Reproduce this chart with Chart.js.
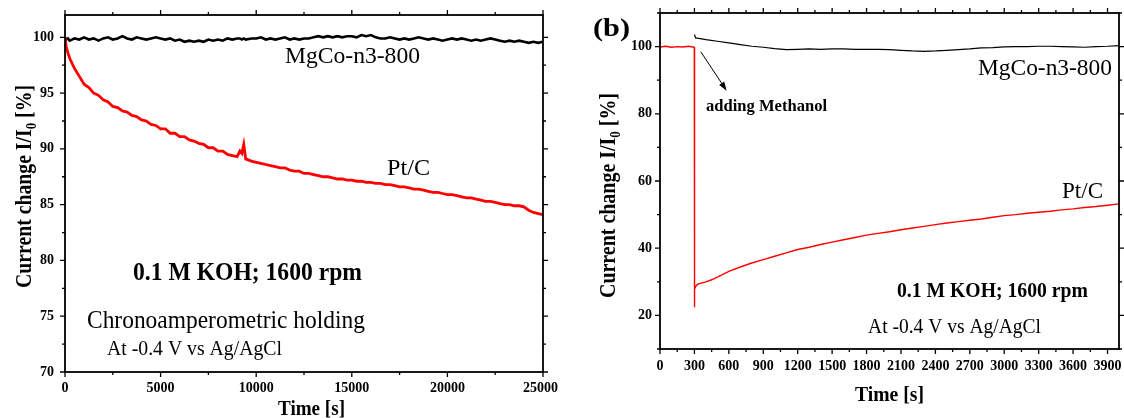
<!DOCTYPE html>
<html><head><meta charset="utf-8">
<script src="https://cdn.jsdelivr.net/npm/chart.js@4.4.0/dist/chart.umd.min.js"></script>
<style>
html,body{margin:0;padding:0;background:#fff;width:1124px;height:418px;overflow:hidden}
#wa{position:absolute;left:0;top:0;width:560px;height:418px}
#wb{position:absolute;left:565px;top:0;width:559px;height:418px}
</style></head><body>
<div id="wa"><canvas id="ca" width="560" height="418"></canvas></div>
<div id="wb"><canvas id="cb" width="559" height="418"></canvas></div>
<script>
// ---------- Panel (a): long-term chronoamperometry ----------
const timeA = [0,60,150,250,500,750,1000,1250,1500,1750,2000,2250,2500,2750,3000,3250,3500,3750,4000,4250,4500,4750,5000,5250,5500,5750,6000,6250,6500,6750,7000,7250,7500,7750,8000,8250,8500,8750,9000,9150,9250,9350,9450,9750,10000,10250,10500,10750,11000,11250,11500,11750,12000,12250,12500,12750,13000,13250,13500,13750,14000,14250,14500,14750,15000,15250,15500,15750,16000,16250,16500,16750,17000,17250,17500,17750,18000,18250,18500,18750,19000,19250,19500,19750,20000,20250,20500,20750,21000,21250,21500,21750,22000,22250,22500,22750,23000,23250,23500,23750,24000,24250,24500,24750,25000];
const ptcA = [100.0,99.2,98.6,98.1,97.2,96.5,95.8,95.5,95.0,94.8,94.4,94.2,93.8,93.7,93.4,93.3,93.0,92.9,92.6,92.5,92.2,92.1,91.8,91.8,91.4,91.4,91.1,91.1,90.8,90.7,90.5,90.4,90.1,90.1,89.8,89.8,89.5,89.4,89.3,89.8,89.6,90.4,89.1,88.9,88.8,88.7,88.6,88.5,88.4,88.3,88.3,88.1,88.0,88.0,87.8,87.8,87.7,87.6,87.5,87.5,87.4,87.3,87.3,87.2,87.2,87.1,87.1,87.0,87.0,86.9,86.9,86.8,86.8,86.7,86.6,86.6,86.5,86.4,86.4,86.3,86.2,86.1,86.1,86.0,85.9,85.9,85.8,85.7,85.6,85.6,85.5,85.4,85.3,85.3,85.2,85.1,85.0,85.0,84.9,84.9,84.8,84.5,84.3,84.2,84.1];
const mgcoA = [100.0,99.8,99.9,99.7,99.9,99.8,100.0,99.8,99.9,99.7,99.9,100.0,99.8,99.9,100.1,99.9,99.8,100.0,99.9,99.8,99.9,100.0,99.9,99.8,99.9,99.7,99.8,99.6,99.7,99.6,99.7,99.6,99.8,99.7,99.8,99.7,99.9,99.8,99.9,99.9,99.8,99.9,99.8,99.9,99.9,100.0,99.8,99.9,99.8,99.9,100.0,99.8,99.9,99.8,99.9,99.9,100.0,100.1,100.0,100.1,100.0,100.1,100.0,100.1,100.1,100.0,100.2,100.1,100.2,100.0,99.9,99.9,100.0,99.9,99.8,99.9,99.8,99.9,100.0,99.9,99.8,99.9,99.8,99.7,99.8,99.9,99.8,99.9,99.8,99.7,99.8,99.7,99.8,99.9,99.8,99.7,99.6,99.7,99.6,99.7,99.6,99.5,99.6,99.5,99.6];
const xMajorA = [0,5000,10000,15000,20000,25000];
const xMinorA = [2500,7500,12500,17500,22500];
const yMajorA = [70,75,80,85,90,95,100];
const yMinorA = [72.5,77.5,82.5,87.5,92.5,97.5];

// ---------- Panel (b): methanol tolerance ----------
const timeBptc = [0,50,100,150,200,250,299,300,302,310,330,360,400,450,500,600,700,800,900,1000,1100,1200,1300,1400,1500,1600,1700,1800,1900,2000,2100,2200,2300,2400,2500,2600,2700,2800,2900,3000,3100,3200,3300,3400,3500,3600,3700,3800,3900,4000];
const ptcB = [99.9,100.1,99.8,100.0,99.9,100.1,99.8,22.4,27.8,28.6,29.3,29.6,30.0,30.6,31.4,33.1,34.4,35.6,36.6,37.6,38.6,39.6,40.3,41.1,41.8,42.5,43.2,43.9,44.4,44.9,45.5,46.0,46.5,47.0,47.5,47.9,48.3,48.7,49.2,49.7,50.0,50.4,50.7,51.0,51.4,51.7,52.1,52.4,52.8,53.2];
const timeBmg = [300,310,350,400,500,600,700,800,900,1000,1100,1200,1300,1400,1500,1600,1700,1800,1900,2000,2100,2200,2300,2400,2500,2600,2700,2800,2900,3000,3100,3200,3300,3400,3500,3600,3700,3800,3900,4000];
const mgB = [103.6,102.6,102.4,102.1,101.6,101.1,100.6,100.1,99.8,99.4,99.1,99.2,99.3,99.2,99.3,99.3,99.2,99.2,99.2,99.1,98.9,98.7,98.6,98.7,98.9,99.1,99.3,99.6,99.7,99.9,100.0,100.0,100.1,100.1,100.0,99.9,99.8,100.0,100.1,100.3];
const xMajorB = [0,300,600,900,1200,1500,1800,2100,2400,2700,3000,3300,3600,3900];
const xMinorB = [150,450,750,1050,1350,1650,1950,2250,2550,2850,3150,3450,3750];
const yMajorB = [20,40,60,80,100];
const yMinorB = [10,30,50,70,90,110];

const SERIF = '"Liberation Serif", "Times New Roman", serif';
const TICKFONT = 'bold 14px ' + SERIF;

function txt(ctx, s, x, y, font, w, align) {
  ctx.save();
  ctx.font = font;
  const nat = ctx.measureText(s).width;
  const sx = w ? w / nat : 1;
  ctx.translate(x, y);
  ctx.scale(sx, 1);
  ctx.textBaseline = 'alphabetic';
  ctx.textAlign = align || 'left';
  ctx.fillStyle = '#000';
  ctx.fillText(s, 0, 0);
  ctx.restore();
}
function yTitle(ctx, x, y, len) {
  const big = 'bold 23px ' + SERIF, sm = 'bold 15px ' + SERIF;
  const parts = [['Current change I/I', big, 0], ['0', sm, 5], [' [%]', big, 0]];
  ctx.save();
  let nat = 0;
  parts.forEach(p => { ctx.font = p[1]; nat += ctx.measureText(p[0]).width; });
  ctx.translate(x, y); ctx.rotate(-Math.PI / 2); ctx.scale(len / nat, 1);
  ctx.fillStyle = '#000'; ctx.textBaseline = 'alphabetic'; ctx.textAlign = 'left';
  let cx = 0;
  parts.forEach(p => { ctx.font = p[1]; ctx.fillText(p[0], cx, p[2]); cx += ctx.measureText(p[0]).width; });
  ctx.restore();
}

function framePlugin(cfg) {
  return {
    id: 'frame_' + cfg.id,
    afterDraw(chart) {
      const ctx = chart.ctx, a = chart.chartArea, x = chart.scales.x, y = chart.scales.y;
      ctx.save();
      ctx.strokeStyle = '#000';
      ctx.lineWidth = 1.3;
      ctx.beginPath();
      const tx = (v, len) => { const p = x.getPixelForValue(v); ctx.moveTo(p, a.bottom); ctx.lineTo(p, a.bottom + len); ctx.moveTo(p, a.top); ctx.lineTo(p, a.top - len); };
      const ty = (v, len) => { const p = y.getPixelForValue(v); ctx.moveTo(a.left, p); ctx.lineTo(a.left - len, p); ctx.moveTo(a.right, p); ctx.lineTo(a.right + len, p); };
      cfg.xMajor.forEach(v => tx(v, 5)); cfg.xMinor.forEach(v => tx(v, 3));
      cfg.yMajor.forEach(v => ty(v, 5)); cfg.yMinor.forEach(v => ty(v, 3));
      ctx.stroke();
      ctx.lineWidth = 1.8;
      ctx.strokeRect(a.left, a.top, a.right - a.left, a.bottom - a.top);
      // tick labels
      ctx.fillStyle = '#000';
      ctx.font = TICKFONT;
      ctx.textBaseline = 'middle';
      const cw = chart.width;
      cfg.xMajor.forEach(v => {
        const s = String(v);
        const w = ctx.measureText(s).width;
        let cx = x.getPixelForValue(v);
        if (cx + w / 2 > cw - 2) cx = cw - 2 - w / 2;
        ctx.textAlign = 'center';
        ctx.fillText(s, cx, a.bottom + cfg.xLabOff);
      });
      ctx.textAlign = 'right';
      cfg.yMajor.forEach(v => ctx.fillText(String(v), a.left - cfg.yLabOff, y.getPixelForValue(v)));
      ctx.restore();
      cfg.texts.forEach(t => txt(ctx, t.s, x.getPixelForValue(t.x), y.getPixelForValue(t.y), t.font, t.w, t.align));
      yTitle(ctx, x.getPixelForValue(cfg.yt.x), y.getPixelForValue(cfg.yt.y), cfg.yt.len);
      if (cfg.arrow) {
        const x1 = x.getPixelForValue(cfg.arrow[0]), y1 = y.getPixelForValue(cfg.arrow[1]);
        const x2 = x.getPixelForValue(cfg.arrow[2]), y2 = y.getPixelForValue(cfg.arrow[3]);
        const ang = Math.atan2(y2 - y1, x2 - x1);
        ctx.save();
        ctx.strokeStyle = '#000'; ctx.fillStyle = '#000'; ctx.lineWidth = 1;
        ctx.beginPath(); ctx.moveTo(x1, y1); ctx.lineTo(x2 - 6 * Math.cos(ang), y2 - 6 * Math.sin(ang)); ctx.stroke();
        ctx.beginPath();
        ctx.moveTo(x2, y2);
        ctx.lineTo(x2 - 9 * Math.cos(ang) + 3 * Math.sin(ang), y2 - 9 * Math.sin(ang) - 3 * Math.cos(ang));
        ctx.lineTo(x2 - 9 * Math.cos(ang) - 3 * Math.sin(ang), y2 - 9 * Math.sin(ang) + 3 * Math.cos(ang));
        ctx.closePath(); ctx.fill();
        ctx.restore();
      }
    }
  };
}

function scalesCfg(o) {
  return {
    x: {
      type: 'linear', min: o.xmin, max: o.xmax,
      grid: { display: false, drawTicks: false }, border: { display: false },
      afterBuildTicks: s => { s.ticks = o.xMajor.map(v => ({ value: v })); },
      afterFit: s => { s.height = o.xh; s.paddingLeft = 0; s.paddingRight = 0; },
      ticks: { display: false },
      title: { display: false }
    },
    y: {
      type: 'linear', min: o.ymin, max: o.ymax,
      grid: { display: false, drawTicks: false }, border: { display: false },
      afterBuildTicks: s => { s.ticks = o.yMajor.map(v => ({ value: v })); },
      afterFit: s => { s.width = o.yw; s.paddingTop = 0; s.paddingBottom = 0; },
      ticks: { display: false },
      title: { display: false }
    }
  };
}

// Panel (a)
new Chart(document.getElementById('ca'), {
  type: 'line',
  data: {
    datasets: [
      { data: timeA.map((t, i) => ({ x: t, y: ptcA[i] })), borderColor: '#ff0000', borderWidth: 2.8, pointRadius: 0, tension: 0 },
      { data: timeA.map((t, i) => ({ x: t, y: mgcoA[i] })), borderColor: '#000000', borderWidth: 2.6, pointRadius: 0, tension: 0 }
    ]
  },
  options: {
    responsive: false, animation: false, devicePixelRatio: 1,
    layout: { padding: { left: 0, top: 15, right: 17, bottom: 0 } },
    plugins: { legend: { display: false }, tooltip: { enabled: false } },
    scales: scalesCfg({ xmin: 0, xmax: 25000, ymin: 70, ymax: 102, xMajor: xMajorA, yMajor: yMajorA, xh: 46, yw: 65 })
  },
  plugins: [framePlugin({
    id: 'a', xMajor: xMajorA, xMinor: xMinorA, yMajor: yMajorA, yMinor: yMinorA, xLabOff: 16, yLabOff: 11,
    texts: [
      { s: 'MgCo-n3-800', x: 11506, y: 97.67, font: '24px ' + SERIF, w: 135 },
      { s: 'Pt/C', x: 16841, y: 87.66, font: '24px ' + SERIF, w: 43 },
      { s: '0.1 M KOH; 1600 rpm', x: 3556, y: 78.25, font: 'bold 26px ' + SERIF, w: 229 },
      { s: 'Chronoamperometric holding', x: 1151, y: 73.94, font: '26px ' + SERIF, w: 278 },
      { s: 'At -0.4 V vs Ag/AgCl', x: 2197, y: 71.52, font: '21px ' + SERIF, w: 175 },
      { s: 'Time [s]', x: 11140, y: 66.15, font: 'bold 21px ' + SERIF, w: 67 }
    ],
    yt: { x: -1778, y: 77.53, len: 203 }
  })]
});

// Panel (b)
new Chart(document.getElementById('cb'), {
  type: 'line',
  data: {
    datasets: [
      { data: timeBptc.map((t, i) => ({ x: t, y: ptcB[i] })), borderColor: '#ff0000', borderWidth: 1.4, pointRadius: 0, tension: 0 },
      { data: timeBmg.map((t, i) => ({ x: t, y: mgB[i] })), borderColor: '#000000', borderWidth: 1.2, pointRadius: 0, tension: 0 }
    ]
  },
  options: {
    responsive: false, animation: false, devicePixelRatio: 1,
    layout: { padding: { left: 0, top: 13, right: 5, bottom: 0 } },
    plugins: { legend: { display: false }, tooltip: { enabled: false } },
    scales: scalesCfg({ xmin: 0, xmax: 4000, ymin: 10, ymax: 110, xMajor: xMajorB, yMajor: yMajorB, xh: 69, yw: 95 })
  },
  plugins: [framePlugin({
    id: 'b', xMajor: xMajorB, xMinor: xMinorB, yMajor: yMajorB, yMinor: yMinorB, xLabOff: 17, yLabOff: 8,
    texts: [
      { s: 'MgCo-n3-800', x: 3939, y: 91.55, font: '24px ' + SERIF, w: 134, align: 'right' },
      { s: 'Pt/C', x: 3861, y: 54.94, font: '24px ' + SERIF, w: 41, align: 'right' },
      { s: '0.1 M KOH; 1600 rpm', x: 2065, y: 25.57, font: 'bold 21.5px ' + SERIF, w: 191 },
      { s: 'At -0.4 V vs Ag/AgCl', x: 1813, y: 14.76, font: '20px ' + SERIF, w: 173 },
      { s: 'adding Methanol', x: 401, y: 80.83, font: 'bold 16.5px ' + SERIF, w: 121 },
      { s: '(b)', x: -584, y: 103.15, font: 'bold 25px ' + SERIF, w: 37 },
      { s: 'Time [s]', x: 1699, y: -5.48, font: 'bold 21px ' + SERIF, w: 69 }
    ],
    yt: { x: -392, y: 25.18, len: 205 },
    arrow: [355, 98.48, 581, 86.86]
  })]
});
</script>
</body></html>
